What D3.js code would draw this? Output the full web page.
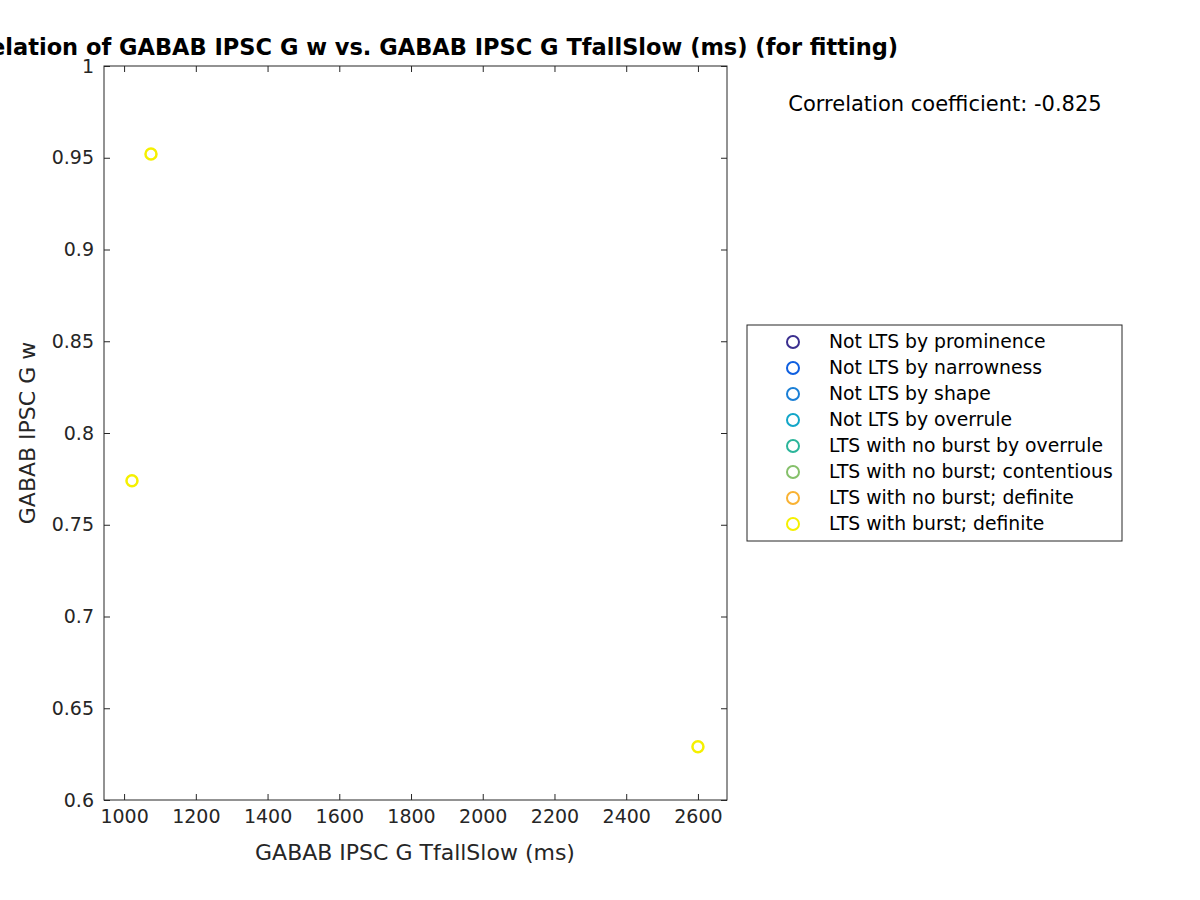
<!DOCTYPE html>
<html><head><meta charset="utf-8">
<script src="https://cdn.jsdelivr.net/npm/d3@7"></script>
<style>body{margin:0;background:#fff}svg{font-family:"DejaVu Sans",sans-serif}</style>
</head><body>
<svg id="chart" width="1200" height="900"></svg>
<script>
// data
var tfallSlow = [1022, 1075, 2600];
var gw = [0.774, 0.952, 0.629];
var legendLabels = ["Not LTS by prominence","Not LTS by narrowness","Not LTS by shape","Not LTS by overrule",
  "LTS with no burst by overrule","LTS with no burst; contentious","LTS with no burst; definite","LTS with burst; definite"];
var legendColors = ["#3b2f8f","#0f5fe0","#1a7fd6","#12a6c8","#2bb59a","#85c06a","#f9b233","#f5f000"];
var xTicks = [1000,1200,1400,1600,1800,2000,2200,2400,2600];
var yTicks = [0.6,0.65,0.7,0.75,0.8,0.85,0.9,0.95,1];

var svg = d3.select("#chart");
var L = 104, R = 727, T = 66, B = 800;
var x = d3.scaleLinear().domain([944, 2681]).range([L, R]);
var y = d3.scaleLinear().domain([0.6, 1]).range([B, T]);

svg.append("rect").attr("x", L).attr("y", T).attr("width", R-L).attr("height", B-T)
  .attr("fill", "none").attr("stroke", "#262626");

var gx = svg.append("g").attr("transform", "translate(0," + B + ")")
  .call(d3.axisBottom(x).tickValues(xTicks).tickSize(-6).tickPadding(10).tickFormat(d3.format("d")));
var gx2 = svg.append("g").attr("transform", "translate(0," + T + ")")
  .call(d3.axisTop(x).tickValues(xTicks).tickSize(-6).tickFormat(""));
var gy = svg.append("g").attr("transform", "translate(" + L + ",0)")
  .call(d3.axisLeft(y).tickValues(yTicks).tickSize(-6).tickPadding(10).tickFormat(function(d){return d3.format("")(+d.toFixed(2));}));
var gy2 = svg.append("g").attr("transform", "translate(" + R + ",0)")
  .call(d3.axisRight(y).tickValues(yTicks).tickSize(-6).tickFormat(""));
[gx, gx2, gy, gy2].forEach(function(g){
  g.select(".domain").remove();
  g.selectAll("line").attr("stroke", "#262626");
  g.selectAll("text").attr("fill", "#262626").style("font-size", "19px").style("font-family", "DejaVu Sans");
});

svg.selectAll("circle.pt").data(tfallSlow).enter().append("circle").attr("class", "pt")
  .attr("cx", function(d){ return x(d); })
  .attr("cy", function(d, i){ return y(gw[i]); })
  .attr("r", 5.5).attr("fill", "none").attr("stroke", "#f5f000").attr("stroke-width", 2.5);

svg.append("text").attr("x", 417).attr("y", 55).attr("text-anchor", "middle")
  .style("font-size", "22.5px").style("font-weight", "bold").attr("fill", "#000")
  .text("Correlation of GABAB IPSC G w vs. GABAB IPSC G TfallSlow (ms) (for fitting)");
svg.append("text").attr("x", 415).attr("y", 860).attr("text-anchor", "middle")
  .style("font-size", "22px").attr("fill", "#262626").text("GABAB IPSC G TfallSlow (ms)");
svg.append("text").attr("transform", "translate(35,433) rotate(-90)").attr("text-anchor", "middle")
  .style("font-size", "22px").attr("fill", "#262626").text("GABAB IPSC G w");
svg.append("text").attr("x", 945).attr("y", 111).attr("text-anchor", "middle")
  .style("font-size", "21px").attr("fill", "#000").text("Correlation coefficient: -0.825");

// legend
svg.append("rect").attr("x", 747).attr("y", 325).attr("width", 375).attr("height", 216)
  .attr("fill", "#fff").attr("stroke", "#262626");
var lg = svg.selectAll("g.leg").data(legendLabels).enter().append("g").attr("class", "leg")
  .attr("transform", function(d, i){ return "translate(0," + (342 + i*26) + ")"; });
lg.append("circle").attr("cx", 793).attr("cy", 0).attr("r", 6).attr("fill", "none")
  .attr("stroke-width", 2).attr("stroke", function(d, i){ return legendColors[i]; });
lg.append("text").attr("x", 829).attr("y", 6).style("font-size", "18.8px").attr("fill", "#000")
  .text(function(d){ return d; });
</script>
</body></html>
